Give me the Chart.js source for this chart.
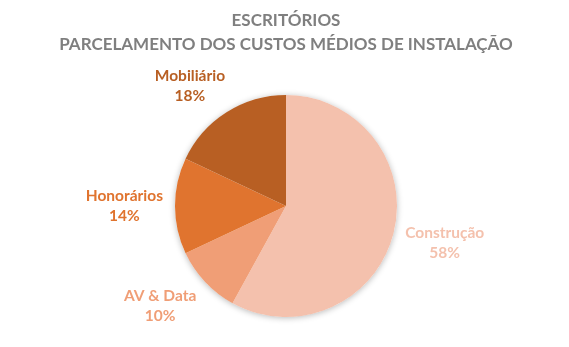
<!DOCTYPE html>
<html>
<head>
<meta charset="utf-8">
<script src="https://cdn.jsdelivr.net/npm/chart.js@4"></script>
<style>
  html, body { margin: 0; padding: 0; background: #fff; }
  #chart { display: block; }
</style>
</head>
<body>
<canvas id="chart" width="569" height="347"></canvas>
<script>
var categorias = ['Construção', 'AV & Data', 'Honorários', 'Mobiliário'];
var percentagens = [58, 10, 14, 18];
var cores = ['#F4C1AD', '#F09E76', '#E0742F', '#B85F23'];
var titulo = ['ESCRITÓRIOS', 'PARCELAMENTO DOS CUSTOS MÉDIOS DE INSTALAÇÃO'];

var fonte = 'Lato, "Open Sans", sans-serif';

// sombra suave por baixo da tarte
var sombra = {
    id: 'sombra',
    beforeDatasetsDraw: function (chart) {
        var arc = chart.getDatasetMeta(0).data[0];
        if (!arc) return;
        var p = arc.getProps(['x', 'y', 'outerRadius'], true);
        var ctx = chart.ctx;
        ctx.save();
        ctx.shadowColor = 'rgba(0,0,0,0.28)';
        ctx.shadowBlur = 6;
        ctx.shadowOffsetX = 0;
        ctx.shadowOffsetY = 1;
        ctx.fillStyle = '#fff';
        ctx.beginPath();
        ctx.arc(p.x, p.y, p.outerRadius, 0, Math.PI * 2);
        ctx.fill();
        ctx.restore();
    }
};

function limita(t) {
    return Math.max(-1, Math.min(1, t * 1.6));
}

// rótulos fora das fatias: nome + percentagem
var rotulos = {
    id: 'rotulos',
    afterDatasetsDraw: function (chart) {
        var ctx = chart.ctx;
        var meta = chart.getDatasetMeta(0);
        ctx.save();
        ctx.font = 'bold 15.5px ' + fonte;
        ctx.textAlign = 'center';
        ctx.textBaseline = 'middle';
        meta.data.forEach(function (arc, i) {
            var p = arc.getProps(['x', 'y', 'startAngle', 'endAngle', 'outerRadius'], true);
            var meio = (p.startAngle + p.endAngle) / 2;
            var cx = Math.cos(meio), cy = Math.sin(meio);
            var l1 = categorias[i];
            var l2 = percentagens[i] + '%';
            var hw = Math.max(ctx.measureText(l1).width, ctx.measureText(l2).width) / 2;
            var hh = 16;
            var d = p.outerRadius + 12;
            var x = p.x + cx * d + limita(cx) * hw;
            var y = p.y + cy * d + limita(cy) * hh;
            ctx.fillStyle = cores[i];
            ctx.fillText(l1, x, y - 10);
            ctx.fillText(l2, x, y + 10);
        });
        ctx.restore();
    }
};

var ctx = document.getElementById('chart');

var grafico = new Chart(ctx, {
    type: 'pie',
    data: {
        labels: categorias,
        datasets: [{
            data: percentagens,
            backgroundColor: cores,
            borderWidth: 0,
            hoverOffset: 0
        }]
    },
    options: {
        responsive: false,
        animation: false,
        layout: {
            padding: { left: 3, right: 0, top: 0, bottom: 30 }
        },
        plugins: {
            legend: { display: false },
            tooltip: { enabled: false },
            title: {
                display: true,
                text: titulo,
                color: '#7F7F7F',
                font: { family: fonte, size: 17, weight: 'bold', lineHeight: 1.44 },
                padding: { top: 8, bottom: 38 }
            }
        }
    },
    plugins: [sombra, rotulos]
});
</script>
</body>
</html>
